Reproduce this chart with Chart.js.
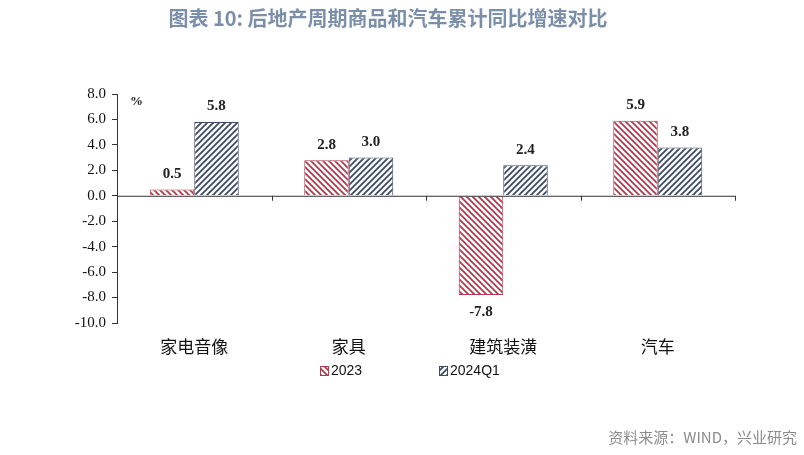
<!DOCTYPE html>
<html>
<head>
<meta charset="utf-8">
<script src="https://cdn.jsdelivr.net/npm/chart.js@4/dist/chart.umd.min.js"></script>
<style>
  html, body { margin: 0; padding: 0; background: #fff; }
  #wrap { width: 804px; height: 455px; position: relative; }
</style>
</head>
<body>
<div id="wrap"><canvas id="c" width="804" height="455"></canvas></div>
<script>
// Chart data
const categories = ["家电音像", "家具", "建筑装潢", "汽车"];
const series2023 = [0.5, 2.8, -7.8, 5.9];
const series2024Q1 = [5.8, 3.0, 2.4, 3.8];
const seriesNames = ["2023", "2024Q1"];
const yTicks = [8, 6, 4, 2, 0, -2, -4, -6, -8, -10];

const RED = "#b43a4c";
const BLUE = "#3e4c68";

/* ---------- hatch patterns ---------- */
function hatch(color, forward) {
  const s = 6;
  const cv = document.createElement("canvas");
  cv.width = s; cv.height = s;
  const g = cv.getContext("2d");
  g.fillStyle = "#fff";
  g.fillRect(0, 0, s, s);
  g.strokeStyle = color;
  g.lineWidth = 1.8;
  g.beginPath();
  if (forward) {
    g.moveTo(-1, s + 1); g.lineTo(s + 1, -1);
    g.moveTo(-1, 1); g.lineTo(1, -1);
    g.moveTo(s - 1, s + 1); g.lineTo(s + 1, s - 1);
  } else {
    g.moveTo(-1, -1); g.lineTo(s + 1, s + 1);
    g.moveTo(s - 1, -1); g.lineTo(s + 1, 1);
    g.moveTo(-1, s - 1); g.lineTo(1, s + 1);
  }
  g.stroke();
  return g.createPattern(cv, "repeat");
}

const ctx = document.getElementById("c").getContext("2d");
const redFill = hatch(RED, false);
const blueFill = hatch(BLUE, true);

/* ---------- extras drawn on top ---------- */
const extras = {
  id: "extras",
  afterDraw(chart) {
    const c = chart.ctx;
    const x = chart.scales.x, y = chart.scales.y;
    const y0 = y.getPixelForValue(0);
    c.save();

    // zero line and category separators
    c.strokeStyle = "#333";
    c.lineWidth = 1;
    c.beginPath();
    c.moveTo(x.left, y0 + 0.5); c.lineTo(x.right, y0 + 0.5);
    const step = (x.right - x.left) / categories.length;
    for (let i = 1; i <= categories.length; i++) {
      const px = Math.round(x.left + step * i) + 0.5;
      c.moveTo(px, y0); c.lineTo(px, y0 + 5);
    }
    c.stroke();

    // data labels
    c.fillStyle = "#222";
    c.font = "bold 15px 'Liberation Serif'";
    c.textAlign = "center";
    chart.data.datasets.forEach((ds, di) => {
      chart.getDatasetMeta(di).data.forEach((bar, i) => {
        const v = ds.data[i];
        if (v >= 0) {
          c.textBaseline = "bottom";
          c.fillText(v.toFixed(1), bar.x, bar.y - 8);
        } else {
          c.textBaseline = "top";
          c.fillText(v.toFixed(1), bar.x, bar.y + 10);
        }
      });
    });

    // unit
    c.font = "bold 13px 'Liberation Serif'";
    c.textAlign = "left";
    c.textBaseline = "middle";
    c.fillText("%", 130, 102);

    // title
    c.fillStyle = "#7b8fa8";
    c.font = "bold 20px 'Noto Sans CJK SC'";
    c.textAlign = "center";
    c.fillText("图表 10: 后地产周期商品和汽车累计同比增速对比", 388, 18);

    // legend
    const items = [[redFill, RED, 320, seriesNames[0]], [blueFill, BLUE, 439, seriesNames[1]]];
    c.font = "14px 'Liberation Sans'";
    items.forEach(([fill, col, lx, txt]) => {
      c.fillStyle = fill;
      c.fillRect(lx, 366, 8, 9);
      c.strokeStyle = col;
      c.lineWidth = 1;
      c.strokeRect(lx + 0.5, 366.5, 8, 9);
      c.fillStyle = "#111";
      c.textAlign = "left";
      c.fillText(txt, lx + 11, 371);
    });

    // source
    c.fillStyle = "#8c8c8c";
    c.font = "15px 'Noto Sans CJK SC'";
    c.textAlign = "right";
    c.fillText("资料来源：WIND，兴业研究", 797, 437);
    c.restore();
  }
};

new Chart(ctx, {
  type: "bar",
  data: {
    labels: categories,
    datasets: [
      { label: seriesNames[0], data: series2023, backgroundColor: redFill, borderColor: RED, borderWidth: 1 },
      { label: seriesNames[1], data: series2024Q1, backgroundColor: blueFill, borderColor: BLUE, borderWidth: 1 }
    ]
  },
  options: {
    responsive: false,
    animation: false,
    devicePixelRatio: 1,
    layout: { padding: { top: 94, right: 69, left: 0, bottom: 0 } },
    datasets: { bar: { barPercentage: 1.0, categoryPercentage: 0.576 } },
    plugins: { legend: { display: false }, title: { display: false }, tooltip: { enabled: false } },
    scales: {
      x: {
        grid: { display: false },
        border: { display: false },
        ticks: { color: "#111", font: { family: "'Noto Sans CJK SC'", size: 17 }, padding: 5 },
        afterFit: s => { s.height = 132; }
      },
      y: {
        min: -10, max: 8,
        afterBuildTicks: s => { s.ticks = yTicks.map(v => ({ value: v })); },
        grid: { drawOnChartArea: false, tickLength: 5, color: "#333" },
        border: { display: true, color: "#333" },
        ticks: {
          color: "#111",
          font: { family: "'Liberation Serif'", size: 15 },
          padding: 6,
          callback: v => v.toFixed(1)
        },
        afterFit: s => { s.width = 117; }
      }
    }
  },
  plugins: [extras]
});
</script>
</body>
</html>
